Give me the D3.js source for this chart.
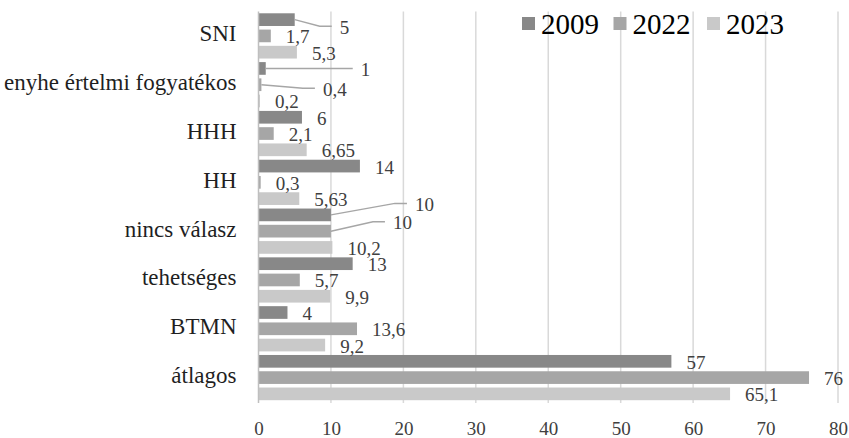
<!DOCTYPE html>
<html>
<head>
<meta charset="utf-8">
<script src="https://cdn.jsdelivr.net/npm/d3@7"></script>
<style>
html,body{margin:0;padding:0;background:#fff;}
svg{display:block;}
</style>
</head>
<body>
<svg id="chart" width="849" height="438"></svg>
<script>
const categories = ["SNI","enyhe értelmi fogyatékos","HHH","HH","nincs válasz","tehetséges","BTMN","átlagos"];
const seriesNames = ["2009","2022","2023"];
const values2009 = [5, 1, 6, 14, 10, 13, 4, 57];
const values2022 = [1.7, 0.4, 2.1, 0.3, 10, 5.7, 13.6, 76];
const values2023 = [5.3, 0.2, 6.65, 5.63, 10.2, 9.9, 9.2, 65.1];
const xTicks = [0,10,20,30,40,50,60,70,80];

// layout / style configuration (not data)
const colors = {"2009":"#888888","2022":"#a6a6a6","2023":"#c9c9c9"};
// label nudges in px for labels moved away with leader lines
const labelNudges = {
  "SNI|2009": [30, 6.5],
  "enyhe értelmi fogyatékos|2009": [80, 0],
  "enyhe értelmi fogyatékos|2022": [46.5, 3.5],
  "nincs válasz|2009": [69, -11.5],
  "nincs válasz|2022": [47, -9.5]
};

const seriesValues = {"2009":values2009,"2022":values2022,"2023":values2023};
const margin = {left:258.5, right:11, top:11.5, bottom:36};
const W = 849, H = 438;
const svg = d3.select("#chart");
const font = "'Liberation Serif','Times New Roman',serif";

const x = d3.scaleLinear().domain([0,80]).range([margin.left, W - margin.right]);
const y = d3.scaleBand().domain(categories).range([margin.top, H - margin.bottom]).padding(0);
const ys = d3.scaleBand().domain(seriesNames).range([0, y.bandwidth()]).paddingInner(0.22).paddingOuter(0.11);

// gridlines
svg.append("g").selectAll("line").data(xTicks.filter(d=>d>0)).join("line")
  .attr("x1", d=>x(d)).attr("x2", d=>x(d))
  .attr("y1", margin.top).attr("y2", H - margin.bottom + 1)
  .attr("stroke","#d9d9d9").attr("stroke-width",1.5);

// bars
const rows = [];
categories.forEach((c,i)=>{
  seriesNames.forEach(s=>{
    rows.push({cat:c, ser:s, val:seriesValues[s][i]});
  });
});
svg.append("g").selectAll("rect").data(rows).join("rect")
  .attr("x", x(0))
  .attr("y", d=>y(d.cat)+ys(d.ser))
  .attr("width", d=>x(d.val)-x(0))
  .attr("height", ys.bandwidth())
  .attr("fill", d=>colors[d.ser]);

// y axis line
svg.append("line").attr("x1",x(0)).attr("x2",x(0))
  .attr("y1",margin.top).attr("y2",H - margin.bottom + 1)
  .attr("stroke","#bfbfbf").attr("stroke-width",1.5);

// x axis tick labels
const xAxis = d3.axisBottom(x).tickValues(xTicks).tickSize(0).tickPadding(0).tickFormat(d3.format("d"));
const gx = svg.append("g").attr("transform",`translate(0,${H - margin.bottom + 19})`).call(xAxis);
gx.select(".domain").remove();
gx.selectAll("text").attr("font-family",font).attr("font-size",19).attr("fill","#404040");

// category labels
svg.append("g").selectAll("text").data(categories).join("text")
  .attr("x", x(0) - 22)
  .attr("y", d=>y(d)+y.bandwidth()/2 - 2)
  .attr("text-anchor","end")
  .attr("dominant-baseline","central")
  .attr("font-family",font).attr("font-size",23).attr("fill","#1f1f1f")
  .text(d=>d);

// data labels
const fmt = v => String(v).replace(".", ",");
const lab = svg.append("g");
rows.forEach(d=>{
  const bx = x(d.val), by = y(d.cat)+ys(d.ser)+ys.bandwidth()/2;
  let lx = bx + 15, ly = by + 1;
  const n = labelNudges[d.cat+"|"+d.ser];
  if (n) {
    lx += n[0]; ly += n[1];
    const ex = lx - 20, fx = lx - 8, ey = ly - 1;
    lab.append("polyline")
      .attr("points", `${bx},${by} ${ex},${ey} ${fx},${ey}`)
      .attr("fill","none").attr("stroke","#a6a6a6").attr("stroke-width",1.5);
  }
  lab.append("text").attr("x",lx).attr("y",ly)
    .attr("dominant-baseline","central")
    .attr("font-family",font).attr("font-size",19).attr("fill","#404040")
    .text(fmt(d.val));
});

// legend
const legendX = [522, 613.5, 707];
const lg = svg.append("g");
seriesNames.forEach((s,i)=>{
  lg.append("rect").attr("x",legendX[i]).attr("y",17).attr("width",13).attr("height",13).attr("fill",colors[s]);
  lg.append("text").attr("x",legendX[i]+19).attr("y",34)
    .attr("font-family",font).attr("font-size",29).attr("fill","#000")
    .text(s);
});
</script>
</body>
</html>
